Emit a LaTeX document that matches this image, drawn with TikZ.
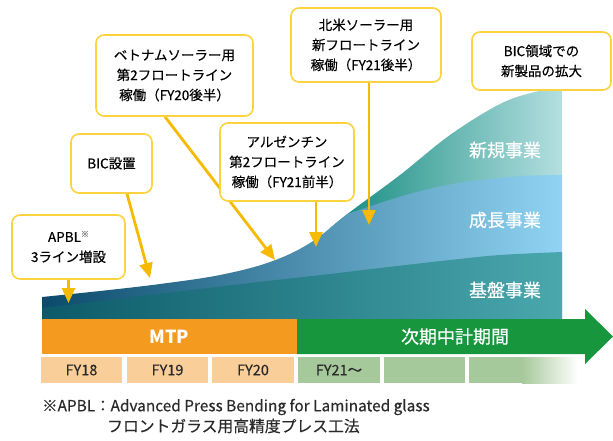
\documentclass[tikz,border=0pt]{standalone}
\usepackage{fontspec}
\setmainfont{Noto Sans CJK JP}
\newfontfamily\medfont[FakeBold=0.35]{Noto Sans CJK JP}
\usetikzlibrary{arrows.meta}
\definecolor{calloutborder}{HTML}{FCD23F}
\definecolor{arrowyellow}{HTML}{F6BB00}
\definecolor{mtporange}{HTML}{F39A1F}
\definecolor{nextgreen}{HTML}{17963E}
\definecolor{lightorange}{HTML}{F9CE98}
\definecolor{lightgreen}{HTML}{A6C99B}
\definecolor{newL}{HTML}{118A7E}
\definecolor{newR}{HTML}{B4DFE0}
\definecolor{grL}{HTML}{0B4A6B}
\definecolor{grM}{HTML}{1A86B0}
\definecolor{grR}{HTML}{90D3F2}
\definecolor{baseL}{HTML}{0C5A69}
\definecolor{baseM}{HTML}{0D7479}
\definecolor{baseR}{HTML}{4AA8AD}
\definecolor{textgray}{HTML}{2A2A2A}
\pgfdeclarelayer{bg}
\pgfdeclarelayer{mid}
\pgfsetlayers{bg,mid,main}
\begin{document}
\begin{tikzpicture}[x=1pt,y=-1pt,
  callout/.style={draw=calloutborder, line width=1.6pt, rounded corners=8pt, fill=white,
    align=center, inner sep=0pt, text=black, font=\medfont\fontsize{13.5}{20}\selectfont},
  pointer/.style={draw=arrowyellow, line width=2.8pt, -{Triangle[width=13pt,length=15pt]}},
  layerlabel/.style={text=white, font=\medfont\fontsize{18}{20}\selectfont, inner sep=0pt},
  barlabel/.style={text=white, font=\medfont\fontsize{18}{20}\selectfont, inner sep=0pt},
  yearbox/.style={minimum height=26pt, inner sep=0pt, text=textgray, font=\medfont\fontsize{14.5}{16}\selectfont},
  footnote/.style={anchor=west, inner sep=0pt, text=textgray}
]
\useasboundingbox (0,0) rectangle (613,440);

\begin{pgfonlayer}{bg}
\begin{scope}
\clip (42,320) -- plot[smooth, tension=0.6] coordinates {(42,297) (100,291) (160,284) (220,275) (270,262) (310,243) (350,212) (400,175) (450,135) (500,104) (535,92) (562,88)} -- (562,320) -- cycle;
\shade[left color=newL, right color=newR] (330,60) rectangle (562,320);
\shade[left color=grL, middle color=grM, right color=grR] (42,320) -- (42,60) -- (335,60) -- (335,218) -- plot[smooth, tension=0.6] coordinates {(335,218) (380,203) (413,193) (447,185) (480,180) (520,176) (562,175)} -- (562,320) -- cycle;
\shade[left color=baseL, middle color=baseM, right color=baseR] (42,320) -- plot[smooth, tension=0.6] coordinates {(42,308) (150,295) (250,283) (330,274) (380,268) (450,260) (500,255) (562,252)} -- (562,320) -- cycle;
\end{scope}
\fill[mtporange] (42,319) rectangle (297,354);
\fill[nextgreen] (297,319) -- (585,319) -- (585,309) -- (613,336.5) -- (585,364) -- (585,354) -- (297,354) -- cycle;
\fill[lightgreen] (469,357) rectangle (522,383);
\shade[left color=lightgreen, right color=white] (522,357) rectangle (578,383);
\end{pgfonlayer}

% layer labels
\node[layerlabel] (newlbl) at (505,150) {新規事業};
\node[layerlabel] (growlbl) at (505,220) {成長事業};
\node[layerlabel] (baselbl) at (505,290) {基盤事業};

% bar labels
\node[barlabel, font=\fontsize{18}{20}\selectfont\bfseries] (mtp) at (169.5,336.5) {MTP};
\node[barlabel] (nextlbl) at (455,336.5) {次期中計期間};

% year boxes
\node[yearbox, fill=lightorange, minimum width=81pt] (fy18) at (81.5,370) {FY18};
\node[yearbox, fill=lightorange, minimum width=81pt] (fy19) at (167.5,370) {FY19};
\node[yearbox, fill=lightorange, minimum width=82pt] (fy20) at (253,370) {FY20};
\node[yearbox, fill=lightgreen, minimum width=82pt] (fy21) at (339,370) {FY21～};
\node[yearbox, fill=lightgreen, minimum width=81pt] (fy22) at (424.5,370) {};

% callouts
\node[callout, minimum width=113pt, minimum height=64pt] (apbl) at (68.5,247)
  {APBL{\fontsize{8}{8}\selectfont\color{gray}\raisebox{5pt}{※}}\\3ライン増設};
\node[callout, minimum width=81pt, minimum height=59pt] (bic) at (111.5,163.5) {BIC設置};
\node[callout, minimum width=157pt, minimum height=81pt] (viet) at (174.5,75.5)
  {ベトナムソーラー用\\第2フロートライン\\稼働（FY20後半）};
\node[callout, minimum width=134pt, minimum height=78pt] (arg) at (287,162)
  {アルゼンチン\\第2フロートライン\\稼働（FY21前半）};
\node[callout, minimum width=150pt, minimum height=74pt] (na) at (366,45)
  {北米ソーラー用\\新フロートライン\\稼働（FY21後半）};
\node[callout, minimum width=139pt, minimum height=58pt] (bicnew) at (541.5,61)
  {BIC領域での\\新製品の拡大};

% arrow tips
\coordinate (apblT) at (68.5,303);
\coordinate (bicT) at (150,278);
\coordinate (vietT) at (275,260);
\coordinate (argT) at (316,247);
\coordinate (naT) at (369,225);

\begin{pgfonlayer}{mid}
\draw[pointer] (apbl.south) -- (apblT);
\draw[pointer] ([xshift=15.5pt]bic.south) -- (bicT);
\draw[pointer] ([xshift=-9.5pt]viet.south) -- (vietT);
\draw[pointer] ([xshift=29pt]arg.south) -- (argT);
\draw[pointer] ([xshift=3pt]na.south) -- (naT);
\end{pgfonlayer}

% footnote
\node[footnote, font=\medfont\fontsize{15.4}{16}\selectfont] (fn1) at (42,407) {※APBL：Advanced Press Bending for Laminated glass};
\node[footnote, font=\medfont\fontsize{15.8}{16}\selectfont] (fn2) at (107,426) {フロントガラス用高精度プレス工法};
\end{tikzpicture}
\end{document}
